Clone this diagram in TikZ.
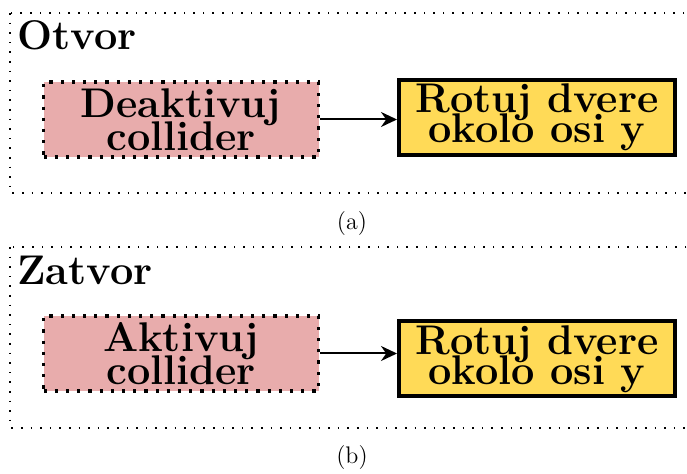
\documentclass[tikz,border=0pt]{standalone}
\usepackage{tikz}
\usetikzlibrary{arrows.meta}

\definecolor{boxpink}{RGB}{232,172,172}
\definecolor{boxyellow}{RGB}{255,218,87}
\setlength{\lineskiplimit}{-20pt}

\begin{document}
\begin{tikzpicture}[x=0.5pt, y=-0.5pt, >={Stealth[length=8pt, width=7.5pt]},
	frame/.style={line width=0.8pt, dash pattern=on 0.8pt off 4pt},
	title/.style={font=\bfseries\fontsize{20.74}{15}\selectfont, anchor=base west, inner sep=0pt},
	pinkbox/.style={fill=boxpink, draw, line width=1.6pt, dash pattern=on 1.6pt off 4pt, align=center, inner sep=2pt,
		minimum width=137.5pt, minimum height=37.5pt, font=\bfseries\fontsize{20.74}{16.4}\selectfont},
	yellowbox/.style={fill=boxyellow, draw, line width=2pt, align=center, inner sep=1.5pt,
		minimum width=138pt, minimum height=37.5pt, font=\bfseries\fontsize{20.74}{14.8}\selectfont},
	caption/.style={font=\large, anchor=base}]
	\useasboundingbox (0,0) rectangle (687,474);
	\clip (0,0) rectangle (687,474);
	% (a) otvor
	\draw[frame] (10,13) rectangle (700,193);
	\node[title] (otvor) at (17,50) {Otvor};
	\node[pinkbox] (deakt) at (181,119.5) {Deaktivuj\\collider};
	\node[yellowbox] (rota) at (537,117.5) {Rotuj dvere\\okolo osi y};
	\draw[->, line width=1pt] (deakt.east) -- (deakt.east -| rota.west);
	\node[caption] (capa) at (352,230) {(a)};
	% (b) zatvor
	\draw[frame] (10,247) rectangle (700,428);
	\node[title] (zatvor) at (17,285) {Zatvor};
	\node[pinkbox] (akt) at (181,353.5) {Aktivuj\\collider};
	\node[yellowbox] (rotb) at (537,359) {Rotuj dvere\\okolo osi y};
	\draw[->, line width=1pt] (akt.east) -- (akt.east -| rotb.west);
	\node[caption] (capb) at (352,464) {(b)};
\end{tikzpicture}
\end{document}
